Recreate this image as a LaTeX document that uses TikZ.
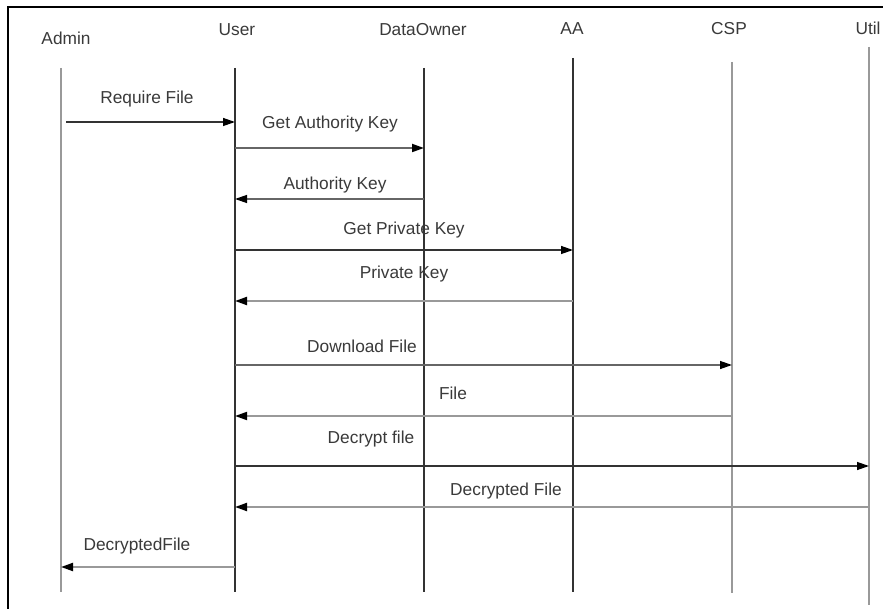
\documentclass[tikz,border=0pt]{standalone}
\usepackage{fontspec}
\setmainfont{Liberation Sans}
\usetikzlibrary{arrows.meta}
\definecolor{txt}{HTML}{3A3A3A}
\definecolor{darkln}{HTML}{333333}
\definecolor{midln}{HTML}{666666}
\definecolor{lightln}{HTML}{999999}
\tikzset{
  lbl/.style={font=\fontsize{17.3}{19}\selectfont, text=txt, inner sep=0pt},
  life/.style={line width=1.3pt, draw=darkln},
  lifegray/.style={line width=2pt, draw=lightln},
  msg/.style={line width=1.3pt, -{Triangle[length=12pt,width=8pt,color=black]}},
}
\begin{document}
\begin{tikzpicture}[x=1pt,y=-1pt]
\useasboundingbox (0,0) rectangle (883,609);
\fill[white] (0,0) rectangle (883,609);
% frame
\draw[line width=2.2pt,black] (8,609) -- (8,7) -- (884,7);

% participants
\node[lbl] (admin) at (66,38) {Admin};
\node[lbl] (user) at (237,30) {User};
\node[lbl] (owner) at (423,30) {DataOwner};
\node[lbl] (aa) at (572,29) {AA};
\node[lbl] (csp) at (729,29) {CSP};
\node[lbl] (util) at (868,28) {Util};

% lifelines
\coordinate (adminT) at (61,68);   \coordinate (adminB) at (61,592);
\coordinate (userT) at (235,68);   \coordinate (userB) at (235,592);
\coordinate (ownerT) at (424,68);  \coordinate (ownerB) at (424,592);
\coordinate (aaT) at (573,58);     \coordinate (aaB) at (573,592);
\coordinate (cspT) at (732,62);    \coordinate (cspB) at (732,593);
\coordinate (utilT) at (869,47);   \coordinate (utilB) at (869,605);
\draw[lifegray] (adminT) -- (adminB);
\draw[life] (userT) -- (userB);
\draw[life] (ownerT) -- (ownerB);
\draw[life] (aaT) -- (aaB);
\draw[lifegray] (cspT) -- (cspB);
\draw[lifegray] (utilT) -- (utilB);

% message anchor points
\coordinate (a1) at (66,122);   \coordinate (u1) at (235,122);
\coordinate (u2) at (235,148);  \coordinate (o2) at (424,148);
\coordinate (o3) at (424,199);  \coordinate (u3) at (235,199);
\coordinate (u4) at (235,250);  \coordinate (aa4) at (573,250);
\coordinate (aa5) at (573,301); \coordinate (u5) at (235,301);
\coordinate (u6) at (235,365);  \coordinate (c6) at (732,365);
\coordinate (c7) at (732,416);  \coordinate (u7) at (235,416);
\coordinate (u8) at (235,466);  \coordinate (t8) at (869,466);
\coordinate (t9) at (869,507);  \coordinate (u9) at (235,507);
\coordinate (u10) at (235,567); \coordinate (a10) at (61,567);

% messages
\draw[msg, draw=darkln] (a1) -- (u1);
\draw[msg, draw=midln, line width=1.8pt] (u2) -- (o2);
\draw[msg, draw=midln] (o3) -- (u3);
\draw[msg, draw=darkln] (u4) -- (aa4);
\draw[msg, draw=lightln, line width=2pt] (aa5) -- (u5);
\draw[msg, draw=midln] (u6) -- (c6);
\draw[msg, draw=lightln, line width=1.8pt] (c7) -- (u7);
\draw[msg, draw=darkln] (u8) -- (t8);
\draw[msg, draw=lightln, line width=2pt] (t9) -- (u9);
\draw[msg, draw=lightln, line width=2pt] (u10) -- (a10);

% message labels
\node[lbl] (m1) at (147,99) {Require File};
\node[lbl] (m2) at (330,124) {Get Authority Key};
\node[lbl] (m3) at (335,185) {Authority Key};
\node[lbl] (m4) at (404,230) {Get Private Key};
\node[lbl] (m5) at (404,274) {Private Key};
\node[lbl] (m6) at (362,346) {Download File};
\node[lbl] (m7) at (453,393) {File};
\node[lbl] (m8) at (371,439) {Decrypt file};
\node[lbl] (m9) at (506,491) {Decrypted File};
\node[lbl] (m10) at (137,546) {DecryptedFile};
\end{tikzpicture}
\end{document}
